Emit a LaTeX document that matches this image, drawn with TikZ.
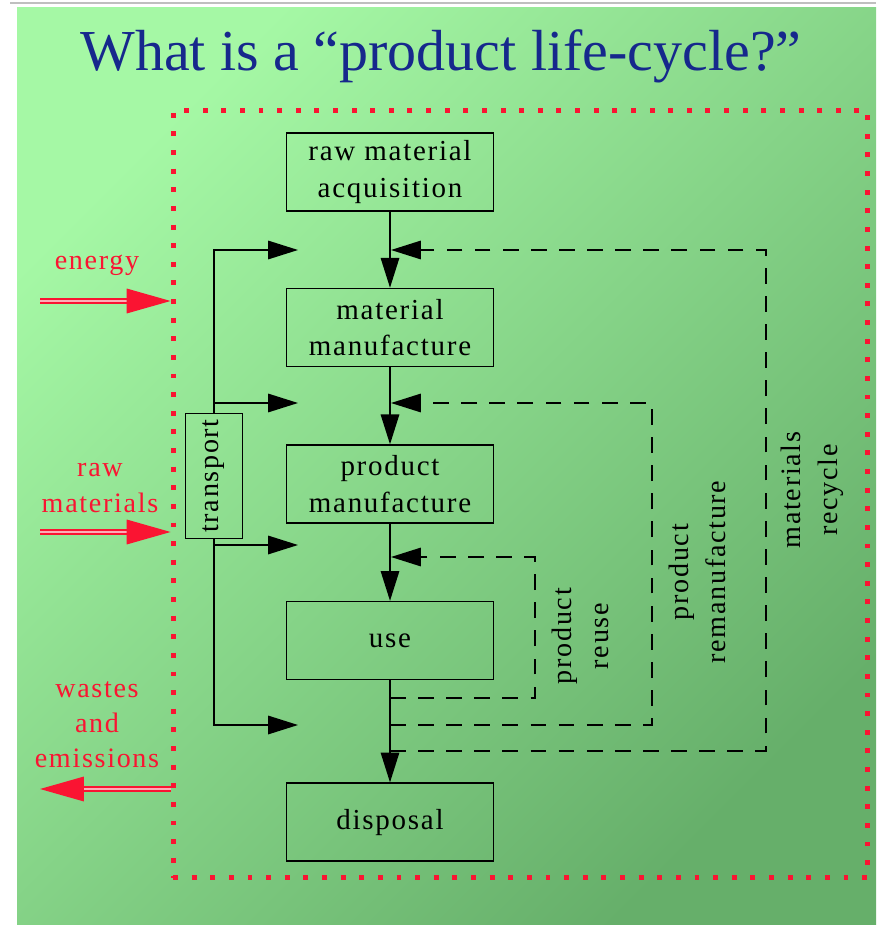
\documentclass[tikz,border=0pt]{standalone}
\usepackage{fontspec}
\setmainfont{Liberation Serif}
\newfontfamily\spacedfont{Liberation Serif}[LetterSpace=6]
\usetikzlibrary{arrows.meta, positioning}

\definecolor{titleblue}{RGB}{22,40,140}
\definecolor{flowred}{RGB}{250,20,50}
\definecolor{bglight}{RGB}{165,248,165}
\definecolor{bgdark}{RGB}{102,175,106}

\begin{document}
\begin{tikzpicture}[x=0.02cm, y=-0.02cm,
      stage/.style={draw, line width=0.9pt, minimum width=4.14cm, minimum height=1.56cm, align=center, font=\spacedfont\fontsize{16.5}{21}\selectfont},
      flow/.style={-{Triangle[length=17pt, width=10.5pt]}, line width=0.9pt},
      loopflow/.style={flow, dash pattern=on 9pt off 7pt},
      side/.style={flowred, line width=0.8pt, double=flowred!35!white, double distance=1.6pt, -{Triangle[length=25pt, width=14pt]}},
      redlabel/.style={text=flowred, align=center, font=\spacedfont\fontsize{16}{20}\selectfont},
      looplabel/.style={rotate=90, align=center, font=\spacedfont\fontsize{16}{21}\selectfont}
    ]
      \useasboundingbox (0,0) rectangle (876,925);

      % Slide background
      \fill[white] (0,0) rectangle (876,925);
      \shade[shading=axis, top color=bglight, bottom color=bgdark, shading angle=45] (17,8) rectangle (876,925);
      \draw[gray!50, line width=1pt] (10,3) -- (876,3);

      % Title
      \node[anchor=base, text=titleblue, font=\fontsize{33}{40}\selectfont] (title) at (441,71) {What is a “product life-cycle?”};

      % System boundary
      \node[draw=flowred, line width=2.8pt, dash pattern=on 2.8pt off 7.8pt, minimum width=13.9cm, minimum height=15.36cm] (boundary) at (520.5,494) {};

      % Life-cycle stages
      \node[stage] (raw) at (390,172) {raw material\\acquisition};
      \node[stage, below=1.52cm of raw] (matman) {material\\manufacture};
      \node[stage, below=1.54cm of matman] (prodman) {product\\manufacture};
      \node[stage, below=1.54cm of prodman] (use) {use};
      \node[stage, below=2.04cm of use] (disposal) {disposal};

      % Main flow down the stages
      \draw[flow] (raw) -- (matman);
      \draw[flow] (matman) -- (prodman);
      \draw[flow] (prodman) -- (use);
      \draw[flow] (use) -- (disposal);

      % Transport box and its branches
      \node[draw, line width=0.9pt, minimum width=1.14cm, minimum height=2.32cm, font=\spacedfont\fontsize{16}{21}\selectfont] (transport) at (214,476) {\rotatebox{90}{transport}};
      \coordinate (tr1) at (298,250);
      \coordinate (tr2) at (298,403);
      \coordinate (tr3) at (298,545);
      \coordinate (tr4) at (298,725);
      \draw[flow] (transport.north) |- (tr1);
      \draw[flow] (transport.north |- tr2) -- (tr2);
      \draw[flow] (transport.south |- tr3) -- (tr3);
      \draw[flow] (transport.south) |- (tr4);

      % Loops back from use
      \coordinate (reuse_out) at (390,698);
      \coordinate (reman_out) at (390,725);
      \coordinate (recycle_out) at (390,751);
      \coordinate (reuse_corner) at (535,698);
      \coordinate (reman_corner) at (652,725);
      \coordinate (recycle_corner) at (766,751);
      \coordinate (reuse_in) at (391,557);
      \coordinate (reman_in) at (391,403);
      \coordinate (recycle_in) at (391,250);
      \draw[loopflow] (reuse_out) -- (reuse_corner) |- (reuse_in);
      \draw[loopflow] (reman_out) -- (reman_corner) |- (reman_in);
      \draw[loopflow] (recycle_out) -- (recycle_corner) |- (recycle_in);

      \node[looplabel] (reuse_label) at (580,636) {product\\reuse};
      \node[looplabel] (reman_label) at (697,572) {product\\remanufacture};
      \node[looplabel] (recycle_label) at (812,490) {materials\\recycle};

      % Inputs and outputs across the boundary
      \node[redlabel] (energy) at (97,265) {energy};
      \node[redlabel] (rawin) at (100,488) {raw\\materials};
      \node[redlabel] (wastes) at (97,725) {wastes\\and\\emissions};

      \coordinate (energy_tail) at (40,301);
      \coordinate (rawin_tail) at (40,532);
      \coordinate (wastes_tip) at (40,789);
      \draw[side] (energy_tail) -- (energy_tail -| boundary.west);
      \draw[side] (rawin_tail) -- (rawin_tail -| boundary.west);
      \draw[side] (wastes_tip -| boundary.west) -- (wastes_tip);
    \end{tikzpicture}
\end{document}
